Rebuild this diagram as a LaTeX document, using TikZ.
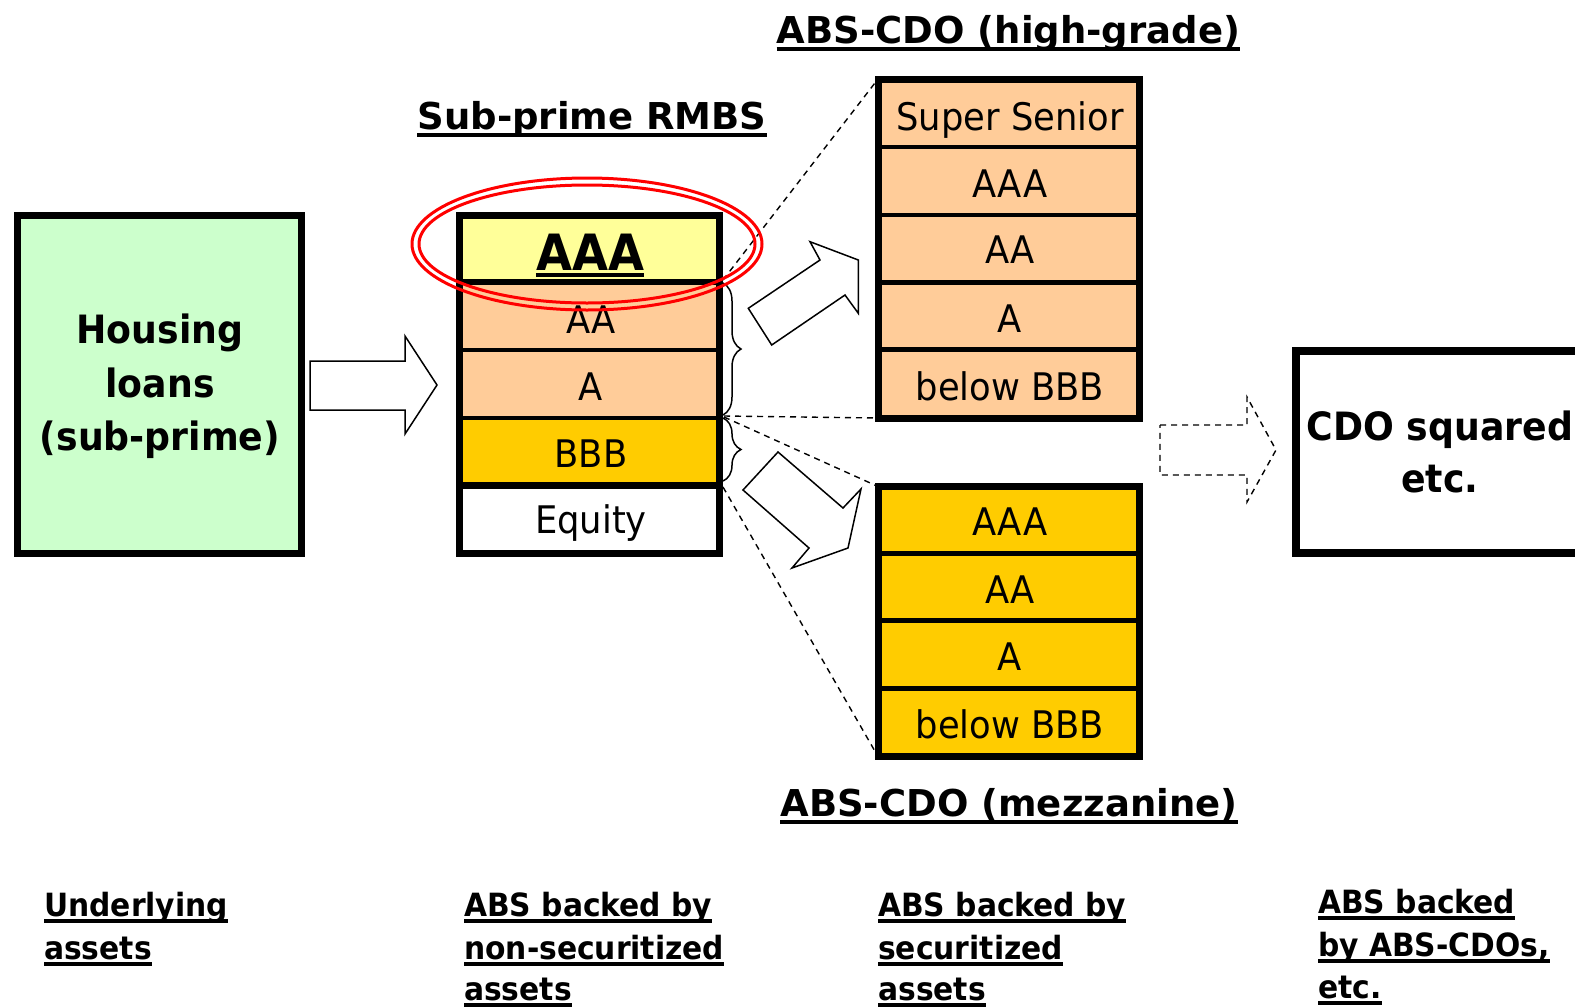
\documentclass[tikz,border=0pt]{standalone}
\usepackage{fontspec}
\setmainfont[FakeStretch=0.93]{DejaVu Sans}
\newfontfamily\ttlfont{DejaVu Sans}
\usetikzlibrary{decorations.pathreplacing}
\definecolor{cgreen}{HTML}{CCFFCC}
\definecolor{cyellow}{HTML}{FFFF99}
\definecolor{cpeach}{HTML}{FFCC99}
\definecolor{cgold}{HTML}{FFCC00}
\definecolor{cred}{HTML}{FF0000}
\begin{document}
\begin{tikzpicture}[x=1pt,y=-1pt,
  rowfill/.style={draw=none, inner sep=0pt, outer sep=0pt, minimum width=#1},
  frame/.style={draw=black, line width=7pt, inner sep=0pt, outer sep=0pt},
  reg/.style={inner sep=0pt, anchor=base, font=\fontsize{38pt}{40pt}\selectfont},
  bld/.style={inner sep=0pt, anchor=base, font=\fontsize{39pt}{41pt}\selectfont\bfseries},
  ttl/.style={inner sep=0pt, anchor=base, font=\ttlfont\fontsize{37pt}{39pt}\selectfont\bfseries},
  lbl/.style={inner sep=0pt, anchor=base west, font=\fontsize{32pt}{34pt}\selectfont\bfseries},
  blockarrow/.style={draw=black, line width=1.5pt, fill=white, line join=miter},
  dashline/.style={draw=black, line width=1.4pt, dash pattern=on 6pt off 5pt},
  bracestyle/.style={draw=black, line width=1.5pt, decorate, decoration={brace, amplitude=18pt}},
  sep/.style={draw=black, line width=#1},
  ulstyle/.style={draw=black, line width=4pt}
]
\clip (0,0) rectangle (1575,1007);
\fill[white] (0,0) rectangle (1575,1007);

% ---------- Housing loans ----------
\node[draw=black, line width=6.5pt, fill=cgreen, inner sep=0pt, minimum width=284pt, minimum height=338pt] (house) at (159.5,384.5) {};
\node[bld] (hl1) at (160,343) {Housing};
\node[bld] (hl2) at (160,397) {loans};
\node[bld] (hl3) at (160,450) {(sub-prime)};

% ---------- arrow 1 ----------
\draw[blockarrow] (310,361) -- (405,361) -- (405,336) -- (437,385) -- (405,434) -- (405,410) -- (310,410) -- cycle;

% ---------- Sub-prime RMBS stack ----------
\node[rowfill=260.5pt, fill=cyellow, minimum height=66pt] (r1) at (589.25,248.5) {};
\node[rowfill=260.5pt, fill=cpeach, minimum height=68.5pt] (r2) at (589.25,315.75) {};
\node[rowfill=260.5pt, fill=cpeach, minimum height=68pt] (r3) at (589.25,384) {};
\node[rowfill=260.5pt, fill=cgold, minimum height=67.5pt] (r4) at (589.25,451.75) {};
\node[rowfill=260.5pt, fill=white, minimum height=68pt] (r5) at (589.25,519.5) {};
\draw[sep=6pt] (r1.south west) -- (r1.south east);
\draw[sep=4pt] (r2.south west) -- (r2.south east);
\draw[sep=4.5pt] (r3.south west) -- (r3.south east);
\draw[sep=7pt] (r4.south west) -- (r4.south east);
\node[frame, minimum width=260.5pt, minimum height=338pt] (rmbs) at (589.25,384.5) {};

\node[inner sep=0pt, anchor=base, font=\fontsize{50pt}{52pt}\selectfont\bfseries] (t1) at (590,270) {AAA};
\node[reg] (t2) at (591,333) {AA};
\node[reg] (t3) at (591,400) {A};
\node[reg] (t4) at (591,467) {BBB};
\node[reg] (t5) at (591,533) {Equity};

% braces
\coordinate (b1s) at (723,283);
\coordinate (b1e) at (723,415);
\coordinate (b2s) at (723,418);
\coordinate (b2e) at (723,481);
\draw[bracestyle] (b1s) -- (b1e);
\draw[bracestyle] (b2s) -- (b2e);

% ---------- ABS-CDO high-grade ----------
\node[rowfill=261pt, fill=cpeach, minimum height=68pt] (h1) at (1008.5,113) {};
\node[rowfill=261pt, fill=cpeach, minimum height=68pt] (h2) at (1008.5,181) {};
\node[rowfill=261pt, fill=cpeach, minimum height=67.5pt] (h3) at (1008.5,248.75) {};
\node[rowfill=261pt, fill=cpeach, minimum height=67pt] (h4) at (1008.5,316) {};
\node[rowfill=261pt, fill=cpeach, minimum height=68.5pt] (h5) at (1008.5,383.75) {};
\foreach \n in {h1,h2,h3,h4} \draw[sep=4.5pt] (\n.south west) -- (\n.south east);
\node[frame, minimum width=261pt, minimum height=339pt] (hg) at (1008.5,248.5) {};
\node[reg] (ht1) at (1010,130) {Super Senior};
\node[reg] (ht2) at (1010,197) {AAA};
\node[reg] (ht3) at (1010,263) {AA};
\node[reg] (ht4) at (1010,332) {A};
\node[reg] (ht5) at (1010,400) {below BBB};

% ---------- ABS-CDO mezzanine ----------
\node[rowfill=261pt, fill=cgold, minimum height=67pt] (m1) at (1008.5,520) {};
\node[rowfill=261pt, fill=cgold, minimum height=67pt] (m2) at (1008.5,587) {};
\node[rowfill=261pt, fill=cgold, minimum height=68pt] (m3) at (1008.5,654.5) {};
\node[rowfill=261pt, fill=cgold, minimum height=68pt] (m4) at (1008.5,722.5) {};
\foreach \n in {m1,m2,m3} \draw[sep=4.5pt] (\n.south west) -- (\n.south east);
\node[frame, minimum width=261pt, minimum height=270pt] (mz) at (1008.5,621.5) {};
\node[reg] (mt1) at (1010,535) {AAA};
\node[reg] (mt2) at (1010,603) {AA};
\node[reg] (mt3) at (1010,670) {A};
\node[reg] (mt4) at (1010,738) {below BBB};

% ---------- arrows 2 and 3 ----------
\draw[blockarrow] (748.3,308.3) -- (820,260) -- (810,241.7) -- (858.3,260) -- (858.3,313.3) -- (845,295) -- (771.7,345) -- cycle;
\draw[blockarrow] (743,490) -- (778,452) -- (843,508) -- (861,489) -- (848,548) -- (792,568) -- (809,548) -- cycle;

% ---------- dashed connectors ----------
\coordinate (d1) at (723,280);
\coordinate (d2) at (724,416);
\coordinate (d3) at (724,417);
\coordinate (d4) at (723,487);
\draw[dashline] (d1) -- (hg.north west);
\draw[dashline] (d2) -- (hg.south west);
\draw[dashline] (d3) -- (mz.north west);
\draw[dashline] (d4) -- (mz.south west);

% ---------- dashed block arrow ----------
\draw[dashline, line join=miter] (1160,425) -- (1247,425) -- (1247,397) -- (1276,450) -- (1247,502) -- (1247,475) -- (1160,475) -- cycle;

% ---------- CDO squared ----------
\node[draw=black, line width=8pt, fill=white, inner sep=0pt, minimum width=290pt, minimum height=202pt] (cdo) at (1441,451.5) {};
\node[bld] (c1) at (1440,440) {CDO squared};
\node[bld] (c2) at (1440,492) {etc.};

% ---------- titles ----------
\node[ttl] (ttl1) at (592,129) {Sub-prime RMBS};
\node[ttl] (ttl2) at (1008.5,43) {ABS-CDO (high-grade)};
\node[ttl] (ttl3) at (1009,816) {ABS-CDO (mezzanine)};

% ---------- bottom labels ----------
\node[lbl] (l11) at (44,916) {Underlying};
\node[lbl] (l12) at (44,959) {assets};
\node[lbl] (l21) at (464,916) {ABS backed by};
\node[lbl] (l22) at (464,959) {non-securitized};
\node[lbl] (l23) at (464,1000) {assets};
\node[lbl] (l31) at (878,916) {ABS backed by};
\node[lbl] (l32) at (878,959) {securitized};
\node[lbl] (l33) at (878,1000) {assets};
\node[lbl] (l41) at (1318,913) {ABS backed};
\node[lbl] (l42) at (1318,956) {by ABS-CDOs,};
\node[lbl] (l43) at (1318,998) {etc.};

% underlines
\foreach \n in {ttl1,ttl2,ttl3}
  \draw[ulstyle] ([yshift=-6pt]\n.base west) -- ([yshift=-6pt]\n.base east);
\foreach \n in {l11,l12,l21,l22,l23,l31,l32,l33,l41,l42,l43}
  \draw[ulstyle] ([yshift=-5pt]\n.base west) -- ([yshift=-5pt]\n.base east);
\draw[ulstyle] ([yshift=-5pt]t1.base west) -- ([yshift=-5pt]t1.base east);

% ---------- red double ellipse ----------
\draw[cred, line width=3pt] (587,244) ellipse [x radius=175pt, y radius=66pt];
\draw[cred, line width=3pt] (587,244) ellipse [x radius=168pt, y radius=59pt];
\end{tikzpicture}
\end{document}
